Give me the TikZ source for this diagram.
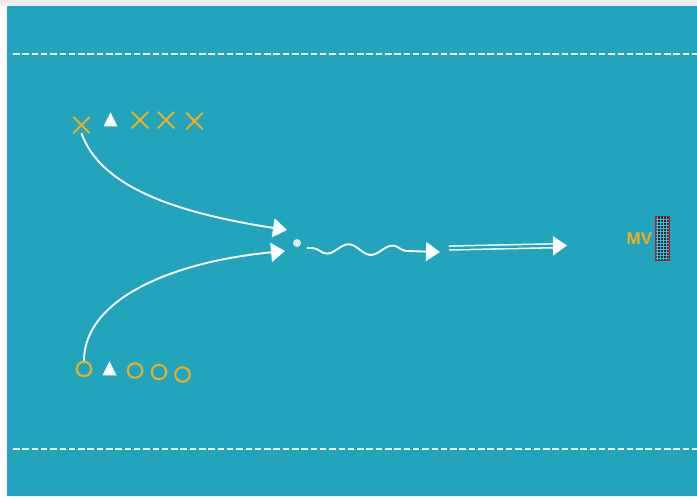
\documentclass[tikz,border=0pt]{standalone}
\usepackage{fontspec}
\setsansfont{Liberation Sans}
\usepackage{xcolor}
\usepackage{tikz}
\usetikzlibrary{arrows.meta,positioning,shapes.geometric,shapes.misc,decorations.pathmorphing}
\definecolor{pitchBlue}{RGB}{34,164,189}
\definecolor{topGrey}{RGB}{236,236,236}
\definecolor{mOrange}{RGB}{242,176,30}
\definecolor{ballGrey}{RGB}{232,232,232}
\definecolor{netDark}{RGB}{28,40,48}
\definecolor{netCyan}{RGB}{60,190,215}
\definecolor{postRed}{RGB}{170,30,40}
\tikzset{
attacker/.style={cross out,draw=mOrange,line width=2pt,minimum size=14.5pt,inner sep=0pt},
defender/.style={circle,draw=mOrange,line width=2pt,minimum size=14.5pt,inner sep=0pt},
cone/.style={isosceles triangle,isosceles triangle apex angle=50,isosceles triangle stretches,shape border rotate=90,fill=white,inner sep=0pt,minimum height=14pt,minimum width=14pt},
ball/.style={circle,fill=ballGrey,minimum size=8pt,inner sep=0pt},
goal/.style={rectangle,fill=netDark,draw=postRed,line width=1.2pt,minimum width=13pt,minimum height=44pt,inner sep=0pt},
mvlabel/.style={font=\sffamily\bfseries\fontsize{17}{17}\selectfont,text=mOrange,inner sep=0pt},
fieldline/.style={white,line width=1.6pt,dash pattern=on 6.5pt off 2.8pt},
arrow/.style={-{Triangle[length=14pt,width=19pt]},line width=1.9pt,draw=white},
dribble/.style={arrow,decorate,decoration={snake,amplitude=5pt,segment length=44pt,pre length=6pt,post length=14pt,mirror}},
shot/.style={arrow,double=pitchBlue,double distance=2.4pt,line width=1.5pt}
}

\begin{document}
\begin{tikzpicture}[x=1pt,y=-1pt]
\useasboundingbox (0,0) rectangle (697,496);
% pitch
\fill[white] (0,0) rectangle (697,496);
\fill[topGrey] (0,0) rectangle (697,6);
\fill[pitchBlue] (7,6) rectangle (697,496);
\draw[fieldline] (13,54) -- (697,54);
\draw[fieldline] (13,449) -- (697,449);
% players
\node[attacker] (x1) at (81.5,125) {};
\node[cone] (c1) at (110.5,122) {};
\node[attacker] (x2) at (140,120) {};
\node[attacker] (x3) at (166,120) {};
\node[attacker] (x4) at (194.5,121) {};
\node[defender] (o1) at (84,369) {};
\node[cone] (c2) at (109.5,371) {};
\node[defender] (o2) at (135,370.5) {};
\node[defender] (o3) at (159,372) {};
\node[defender] (o4) at (182.5,374.5) {};
\node[ball] (ball) at (297,243) {};
\node[goal] (goal) at (662.5,238.5) {};
\draw[netCyan,line width=0.7pt,step=3pt] ([shift={(1pt,1pt)}]goal.south west) grid ([shift={(-1pt,-1pt)}]goal.north east);
\node[mvlabel,left=3pt of goal] (mv) {MV};
% runs, dribble and shot
\coordinate (topEnd) at (287,230);
\coordinate (lowEnd) at (285,251);
\coordinate (dribbleStart) at (307,248);
\coordinate (dribbleEnd) at (440,252);
\coordinate (shotStart) at (449,248);
\coordinate (shotEnd) at (567,245.5);
\draw[arrow] (x1.south) .. controls (100,185) and (170,212) .. (topEnd);
\draw[arrow] (o1.north) .. controls (84,300) and (170,262) .. (lowEnd);
\draw[dribble] (dribbleStart) -- (dribbleEnd);
\draw[shot] (shotStart) -- (shotEnd);
\end{tikzpicture}
\end{document}
